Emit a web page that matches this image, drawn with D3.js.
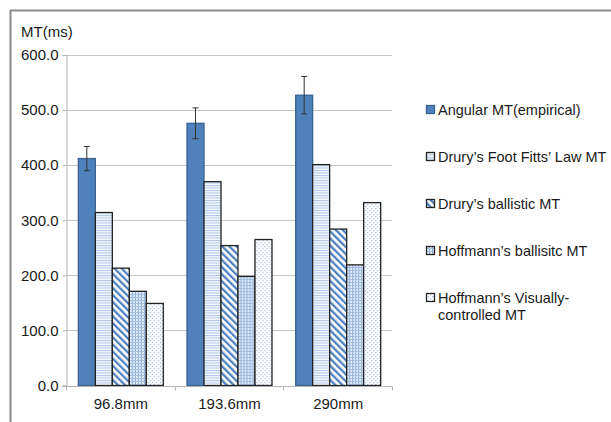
<!DOCTYPE html>
<html lang="en">
<head>
    <meta charset="UTF-8">
    <title>MT by distance</title>
    <script src="https://d3js.org/d3.v7.min.js"></script>
    <style>
        body { margin: 0; background: #fff; }
        svg { display: block; font-family: "Liberation Sans", Arial, sans-serif; }
    </style>
</head>
<body>
<svg id="chart" width="611" height="422"></svg>
<script>
    // values
    const categories = ["96.8mm", "193.6mm", "290mm"];
    const seriesNames = [
        "Angular MT(empirical)",
        "Drury\u2019s Foot Fitts\u2019 Law MT",
        "Drury\u2019s ballistic MT",
        "Hoffmann\u2019s ballisitc MT",
        "Hoffmann\u2019s Visually-controlled MT"
    ];
    const angularMT = [412, 476, 527];
    const angularErr = [22, 28, 34];
    const druryFitts = [314, 370, 401];
    const druryBallistic = [213, 254, 284];
    const hoffBallistic = [171, 198, 219];
    const hoffVisual = [149, 265, 332];
    const yTicks = [0, 100, 200, 300, 400, 500, 600];

    const seriesValues = [angularMT, druryFitts, druryBallistic, hoffBallistic, hoffVisual];
    const fills = ["#4f81bd", "url(#pHoriz)", "url(#pDiag)", "url(#pGrid)", "url(#pDots)"];
    const strokes = ["#3b6390", "#222", "#222", "#222", "#222"];

    const svg = d3.select("#chart");

    // outer frame
    svg.append("rect")
        .attr("x", 10.5).attr("y", 10.5)
        .attr("width", 640).attr("height", 440)
        .attr("fill", "none").attr("stroke", "#8a8a8a").attr("stroke-width", 2);

    // patterns
    const defs = svg.append("defs");
    const ph = defs.append("pattern").attr("id", "pHoriz")
        .attr("patternUnits", "userSpaceOnUse").attr("width", 4).attr("height", 2.5);
    ph.append("rect").attr("width", 4).attr("height", 2.5).attr("fill", "#f4f8fd");
    ph.append("rect").attr("width", 4).attr("height", 1).attr("fill", "#adc6e8");

    const pd = defs.append("pattern").attr("id", "pDiag")
        .attr("patternUnits", "userSpaceOnUse").attr("width", 5).attr("height", 5)
        .attr("patternTransform", "rotate(-45)");
    pd.append("rect").attr("width", 5).attr("height", 5).attr("fill", "#ffffff");
    pd.append("rect").attr("width", 2.3).attr("height", 5).attr("fill", "#4f81bd");

    const pg = defs.append("pattern").attr("id", "pGrid")
        .attr("patternUnits", "userSpaceOnUse").attr("width", 3).attr("height", 3);
    pg.append("rect").attr("width", 3).attr("height", 3).attr("fill", "#e3ecf8");
    pg.append("rect").attr("width", 1).attr("height", 3).attr("fill", "#86a9d6");
    pg.append("rect").attr("width", 3).attr("height", 1).attr("fill", "#a3bfe3");

    const pdot = defs.append("pattern").attr("id", "pDots")
        .attr("patternUnits", "userSpaceOnUse").attr("width", 4).attr("height", 4);
    pdot.append("rect").attr("width", 4).attr("height", 4).attr("fill", "#ffffff");
    pdot.append("rect").attr("x", 0).attr("y", 0).attr("width", 1.2).attr("height", 1.2).attr("fill", "#9fbde3");
    pdot.append("rect").attr("x", 2).attr("y", 2).attr("width", 1.2).attr("height", 1.2).attr("fill", "#9fbde3");

    // scales
    const y = d3.scaleLinear().domain([0, 600]).range([385.5, 55]);
    const x0 = d3.scaleBand().domain(categories).range([66, 392])
        .paddingInner(0.218).paddingOuter(0.109);
    const x1 = d3.scaleBand().domain(d3.range(seriesNames.length)).range([0, x0.bandwidth()]);

    // gridlines
    svg.append("g").selectAll("line")
        .data(yTicks.slice(1))
        .join("line")
        .attr("x1", 66).attr("x2", 392)
        .attr("y1", d => Math.round(y(d)) + 0.5).attr("y2", d => Math.round(y(d)) + 0.5)
        .attr("stroke", "#c4c4c4");

    // y axis
    const yAxis = svg.append("g").attr("transform", "translate(66.5,0)")
        .call(d3.axisLeft(y).tickValues(yTicks).tickFormat(d3.format(".1f")).tickSize(4).tickPadding(4));
    yAxis.select(".domain").attr("stroke", "#b5b5b5");
    yAxis.selectAll(".tick line").attr("stroke", "#b5b5b5");
    yAxis.selectAll(".tick text").attr("font-size", 15).attr("fill", "#1a1a1a")
        .attr("font-family", "Liberation Sans, Arial, sans-serif");

    svg.append("text").attr("x", 21).attr("y", 37)
        .attr("font-size", 15).attr("fill", "#1a1a1a").text("MT(ms)");

    // bars
    const groups = svg.append("g").selectAll("g")
        .data(categories)
        .join("g")
        .attr("transform", d => `translate(${x0(d)},0)`);

    groups.selectAll("rect")
        .data((c, ci) => seriesValues.map((vals, si) => ({si, v: vals[ci]})))
        .join("rect")
        .attr("x", d => x1(d.si) + 0.5)
        .attr("width", x1.bandwidth())
        .attr("y", d => y(d.v))
        .attr("height", d => y(0) - y(d.v))
        .attr("fill", d => fills[d.si])
        .attr("stroke", d => strokes[d.si])
        .attr("stroke-width", 1.3);

    // error bars on empirical series
    const eb = groups.append("g")
        .datum((c, ci) => ({v: angularMT[ci], e: angularErr[ci]}));
    const cx = x1(0) + x1.bandwidth() / 2 + 0.5;
    eb.append("line").attr("x1", cx).attr("x2", cx)
        .attr("y1", d => y(d.v + d.e)).attr("y2", d => y(d.v - d.e))
        .attr("stroke", "#333").attr("stroke-width", 1);
    eb.append("line").attr("x1", cx - 3).attr("x2", cx + 3)
        .attr("y1", d => y(d.v + d.e)).attr("y2", d => y(d.v + d.e))
        .attr("stroke", "#333").attr("stroke-width", 1);
    eb.append("line").attr("x1", cx - 3).attr("x2", cx + 3)
        .attr("y1", d => y(d.v - d.e)).attr("y2", d => y(d.v - d.e))
        .attr("stroke", "#333").attr("stroke-width", 1);

    // x axis
    const base = Math.round(y(0)) + 0.5;
    svg.append("line").attr("x1", 62).attr("x2", 392).attr("y1", base).attr("y2", base)
        .attr("stroke", "#b5b5b5");
    const step = x0.step();
    const edges = categories.map(c => x0(c) - step * x0.paddingInner() / 2).concat([392]);
    svg.append("g").selectAll("line")
        .data(edges)
        .join("line")
        .attr("x1", d => Math.round(d) + 0.5).attr("x2", d => Math.round(d) + 0.5)
        .attr("y1", base).attr("y2", base + 4)
        .attr("stroke", "#b5b5b5");
    svg.append("g").selectAll("text")
        .data(categories)
        .join("text")
        .attr("x", d => x0(d) + x0.bandwidth() / 2 + 0.5)
        .attr("y", 409)
        .attr("text-anchor", "middle")
        .attr("font-size", 15).attr("fill", "#1a1a1a")
        .text(d => d);

    // legend
    const legendY = [110, 157, 204, 251, 298];
    const lg = svg.append("g").selectAll("g")
        .data(seriesNames)
        .join("g")
        .attr("transform", (d, i) => `translate(426,${legendY[i]})`);
    lg.append("rect")
        .attr("x", 0.5).attr("y", -4.5).attr("width", 8).attr("height", 8)
        .attr("fill", (d, i) => fills[i])
        .attr("stroke", (d, i) => i === 0 ? "#3b6390" : "#222")
        .attr("stroke-width", 1.3);
    lg.append("text")
        .attr("x", 12).attr("y", 5)
        .attr("font-size", 14.5).attr("fill", "#1a1a1a")
        .each(function(d) {
            const t = d3.select(this);
            if (d.indexOf("Visually-") >= 0) {
                t.append("tspan").attr("x", 12).text("Hoffmann\u2019s Visually-");
                t.append("tspan").attr("x", 12).attr("dy", 17).text("controlled MT");
            } else {
                t.text(d);
            }
        });
</script>
</body>
</html>
